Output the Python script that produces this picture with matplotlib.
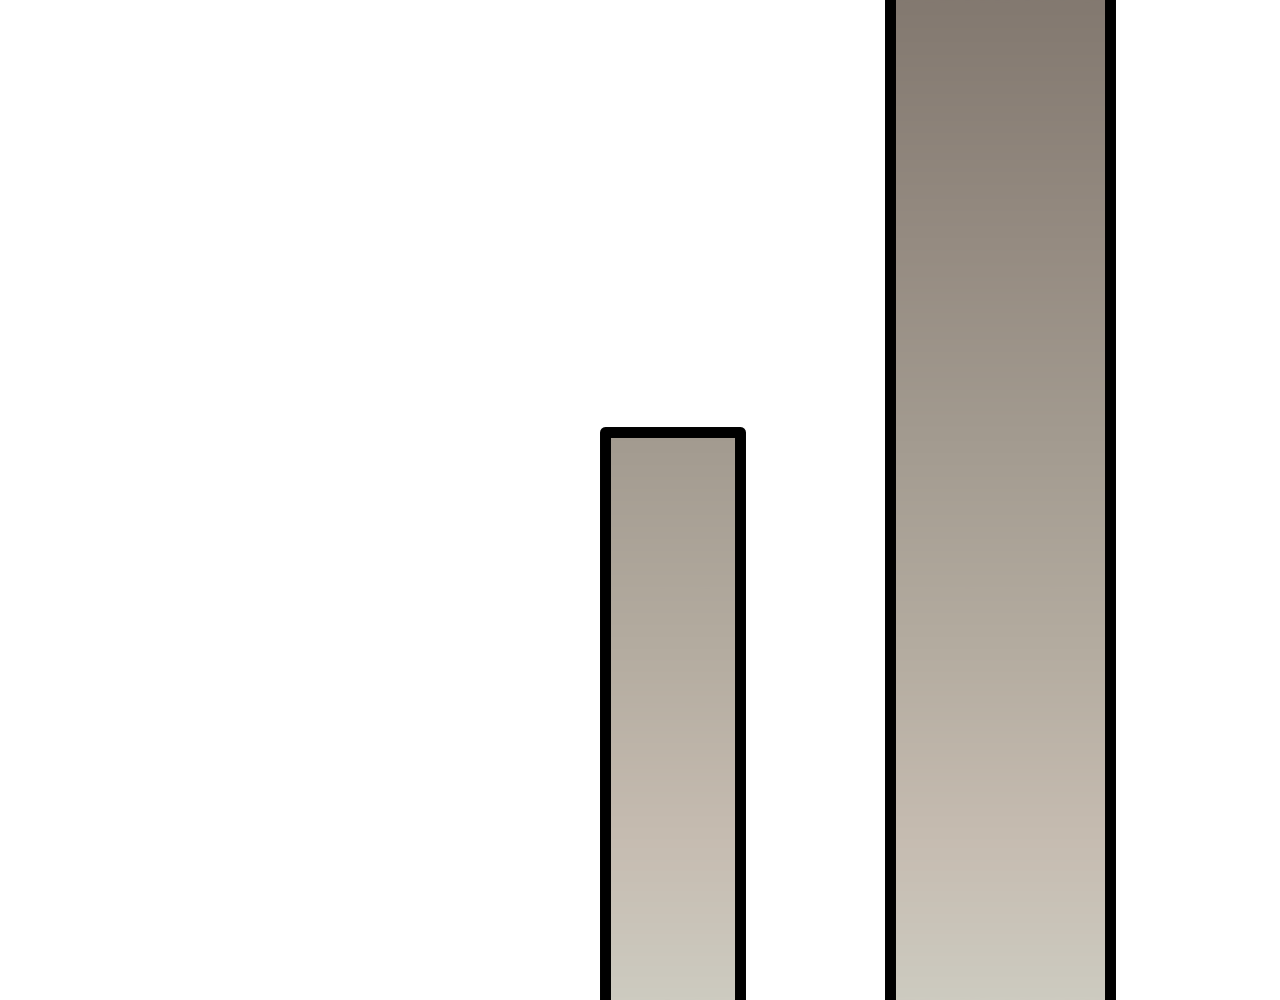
import matplotlib
matplotlib.use("Agg")
import matplotlib.pyplot as plt
import numpy as np
from matplotlib.colors import LinearSegmentedColormap

# data (the view is a crop of a larger bar chart)
categories = ['B', 'C']
positions = [1, 2]
values = [57.8, 115.0]
widths = [0.412, 0.671]

# gradient stops, bottom -> top
grad = LinearSegmentedColormap.from_list('warmgray', [
    (0.0, '#cdcbc0'),
    (0.16, '#c6bcb1'),
    (0.35, '#b4aca0'),
    (0.56, '#a39b90'),
    (0.75, '#968c82'),
    (1.0, '#837970'),
])

XL = (-1.049, 2.853)
YL = (1, 101)

fig = plt.figure(figsize=(12.8, 10), dpi=100)
ax = fig.add_axes([0, 0, 1, 1])
ax.axis('off')

bars = ax.bar(positions, values, width=widths, facecolor='none',
              edgecolor='black', linewidth=7.9, joinstyle='round', zorder=3)

g = np.linspace(0, 1, 512).reshape(-1, 1)
for b in bars:
    im = ax.imshow(g, cmap=grad, aspect='auto', origin='lower',
                   extent=[XL[0], XL[1], YL[0], YL[1]], zorder=2,
                   interpolation='bilinear')
    im.set_clip_path(b)

ax.set_xlim(*XL)
ax.set_ylim(*YL)
fig.savefig('out.png', dpi=100)
